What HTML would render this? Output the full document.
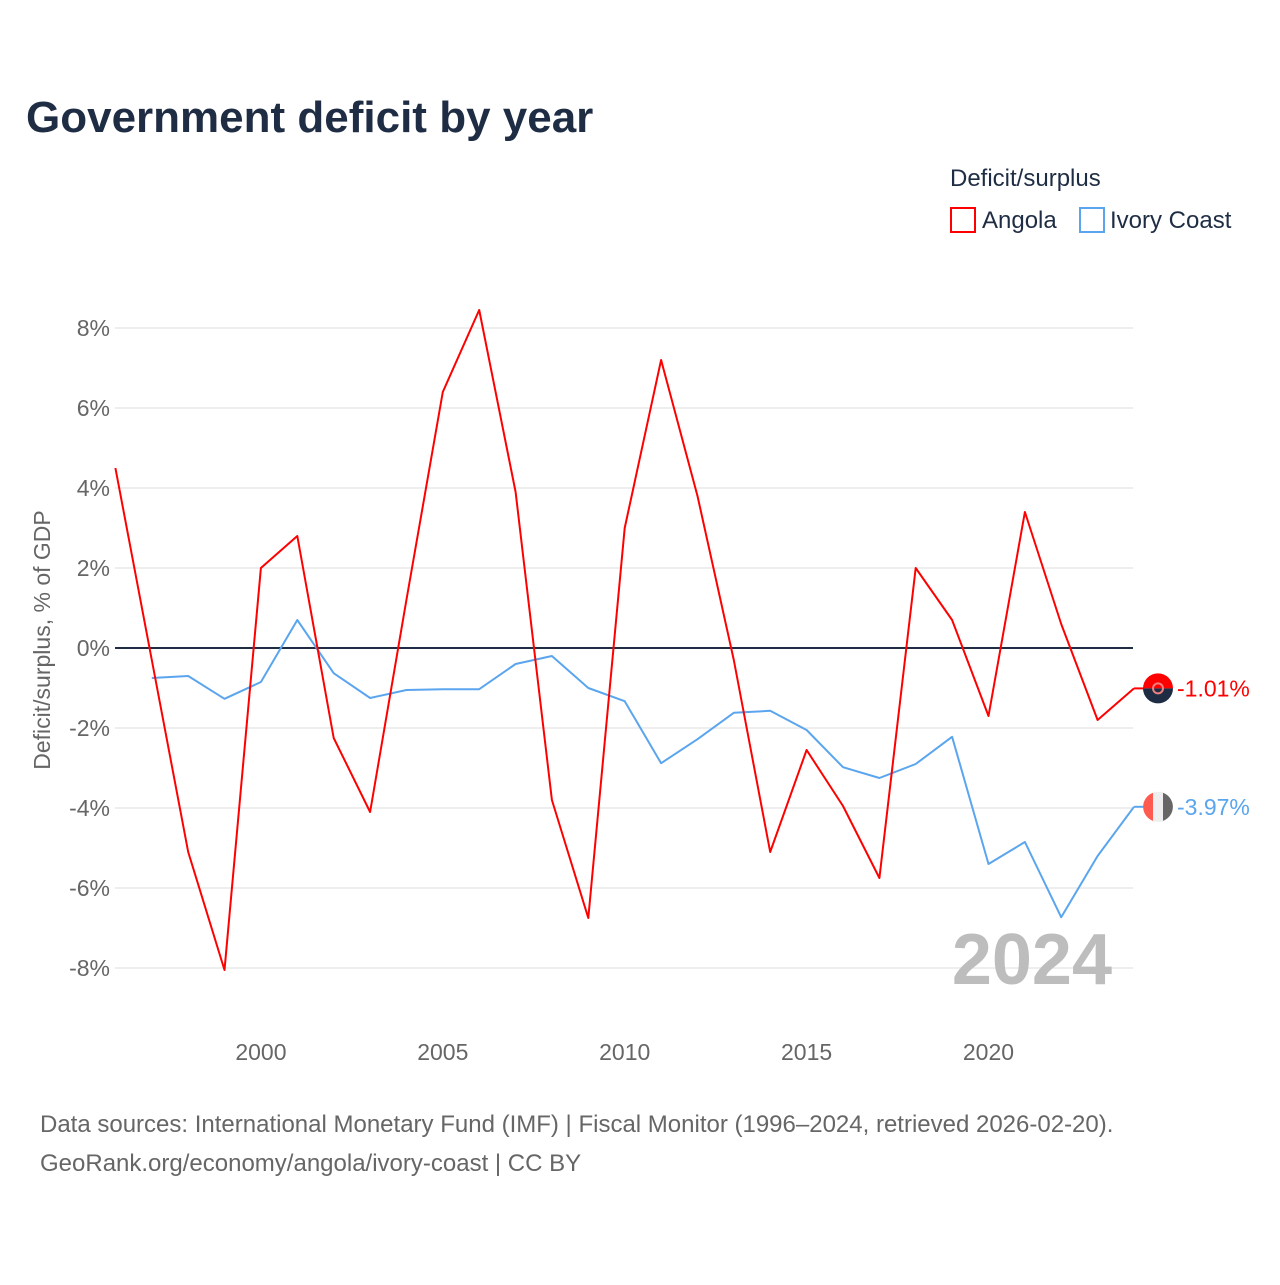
<!DOCTYPE html>
<html><head><meta charset="utf-8"><style>
body{margin:0;background:#fff;}
svg text{font-family:"Liberation Sans",sans-serif;}
</style></head><body>
<svg width="1280" height="1280" viewBox="0 0 1280 1280" xmlns="http://www.w3.org/2000/svg">
<text x="26" y="132" font-size="44" font-weight="bold" fill="#1f2d44">Government deficit by year</text>
<text x="950" y="186" font-size="24" fill="#1f2d44">Deficit/surplus</text>
<g><rect x="951" y="208" width="24" height="24" fill="#fff" stroke="#ff0000" stroke-width="2"/><text x="982" y="228" font-size="24" fill="#1f2d44">Angola</text></g>
<g><rect x="1080" y="208" width="24" height="24" fill="#fff" stroke="#5aa5ee" stroke-width="2"/><text x="1110" y="228" font-size="24" fill="#1f2d44">Ivory Coast</text></g>
<g id="grid"></g>
<g id="yticks"></g>
<g id="xticks"></g>
<text transform="translate(50,640) rotate(-90)" text-anchor="middle" font-size="23" fill="#666">Deficit/surplus, % of GDP</text>
<text x="1112" y="984" text-anchor="end" font-size="72" font-weight="bold" fill="#bdbdbd">2024</text>
<g id="series"></g>
<text x="40" y="1132" font-size="24" fill="#666">Data sources: International Monetary Fund (IMF) | Fiscal Monitor (1996–2024, retrieved 2026-02-20).</text>
<text x="40" y="1171" font-size="24" fill="#666">GeoRank.org/economy/angola/ivory-coast | CC BY</text>
</svg>
<script>
const years=[];for(let y=1996;y<=2024;y++)years.push(y);
const angola=[4.5,-0.3,-5.1,-8.05,2.0,2.8,-2.25,-4.1,1.2,6.4,8.45,3.9,-3.8,-6.75,3.0,7.2,3.8,-0.3,-5.1,-2.55,-3.95,-5.75,2.0,0.7,-1.7,3.4,0.6,-1.8,-1.01];
const ivoryCoast=[null,-0.75,-0.7,-1.27,-0.85,0.7,-0.63,-1.25,-1.05,-1.03,-1.03,-0.4,-0.2,-1.0,-1.33,-2.88,-2.28,-1.62,-1.57,-2.05,-2.98,-3.25,-2.9,-2.22,-5.4,-4.85,-6.73,-5.2,-3.97];
const yTicks=[-8,-6,-4,-2,0,2,4,6,8];
const xTicks=[2000,2005,2010,2015,2020];
const NS="http://www.w3.org/2000/svg";
const X=y=>115.4+(y-1996)*(1134-115.4)/28;
const Y=v=>648-v*40;
function mk(tag,at,parent){const e=document.createElementNS(NS,tag);for(const k in at)e.setAttribute(k,at[k]);parent.appendChild(e);return e;}
const grid=document.getElementById('grid'),yt=document.getElementById('yticks'),xt=document.getElementById('xticks'),ser=document.getElementById('series');
yTicks.forEach(t=>{
 const l=mk('line',{x1:115,x2:1133,y1:Y(t),y2:Y(t),stroke:t==0?'#1f2d44':'#e8e8e8','stroke-width':t==0?2:1.5},grid);
 
 
 const tx=mk('text',{x:110,y:Y(t)+8,'text-anchor':'end','font-size':23,fill:'#666'},yt);tx.textContent=t+'%';
 
 
});
xTicks.forEach(t=>{
 const tx=mk('text',{x:X(t),y:1060,'text-anchor':'middle','font-size':23,fill:'#666'},xt);tx.textContent=t;
 
 
});
function line(vals,color,name){
 let d='';vals.forEach((v,i)=>{if(v==null)return;d+=(d?'L':'M')+X(years[i]).toFixed(1)+','+Y(v).toFixed(1);});
 const p=mk('path',{d:d,fill:'none',stroke:color,'stroke-width':2,'stroke-linejoin':'round'},ser);
 
 
 const last=vals[vals.length-1],cy=Y(last),cx=1158;
 const g=mk('g',{},ser);
 
 
 mk('line',{x1:1134,x2:cx-14,y1:cy,y2:cy,stroke:color,'stroke-width':2},g);
 if(name=='angola'){
  mk('path',{d:`M${cx-15},${cy} A15,15 0 0 1 ${cx+15},${cy}Z`,fill:'#ff0000'},g);
  mk('path',{d:`M${cx-15},${cy} A15,15 0 0 0 ${cx+15},${cy}Z`,fill:'#1f2d44'},g);
  mk('circle',{cx:cx,cy:cy,r:5,fill:'none',stroke:'#f08080','stroke-width':2},g);
 }else{
  mk('path',{d:`M${cx-5},${cy-14.1} A15,15 0 0 0 ${cx-5},${cy+14.1}Z`,fill:'#ff5a50'},g);
  mk('rect',{x:cx-5,y:cy-15,width:10,height:30,fill:'#eeeeee'},g);
  mk('path',{d:`M${cx+5},${cy-14.1} A15,15 0 0 1 ${cx+5},${cy+14.1}Z`,fill:'#666'},g);
 }
 const t=mk('text',{x:1177,y:cy+8,'font-size':23,fill:color},ser);t.textContent=last.toFixed(2)+'%';
 
 
}
line(ivoryCoast,'#5aa5ee','ivory-coast');
line(angola,'#ff0000','angola');
</script>
</body></html>
